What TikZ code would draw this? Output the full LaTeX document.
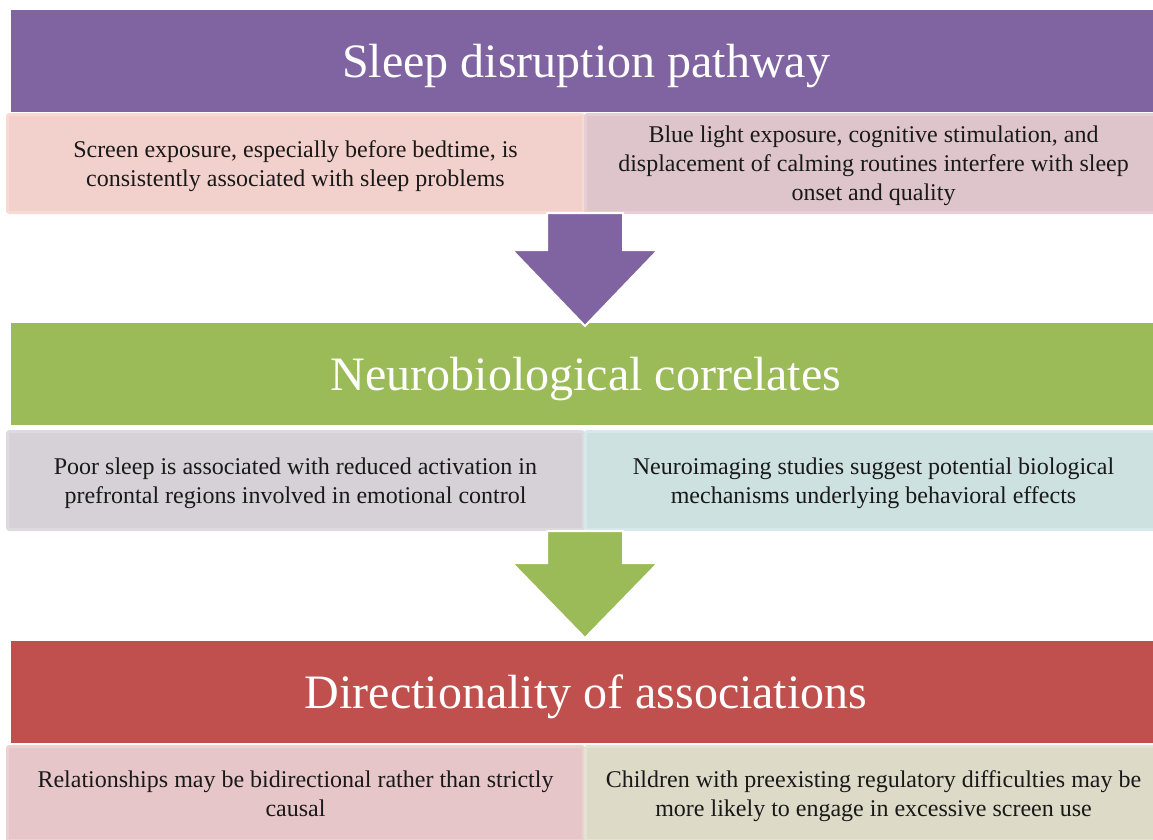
\documentclass[tikz,border=0pt]{standalone}
\usepackage{fontspec}
\setmainfont{Liberation Serif}
% Palette
\definecolor{hpurple}{RGB}{128,100,162}
\definecolor{hgreen}{RGB}{155,187,89}
\definecolor{hred}{RGB}{192,80,77}
\definecolor{fillA}{RGB}{242,208,203}\definecolor{lineA}{RGB}{248,218,210}
\definecolor{fillB}{RGB}{222,197,204}\definecolor{lineB}{RGB}{230,207,212}
\definecolor{fillC}{RGB}{213,209,215}\definecolor{lineC}{RGB}{222,218,224}
\definecolor{fillD}{RGB}{204,225,224}\definecolor{lineD}{RGB}{214,232,234}
\definecolor{fillE}{RGB}{230,198,200}\definecolor{lineE}{RGB}{236,208,210}
\definecolor{fillF}{RGB}{221,218,199}\definecolor{lineF}{RGB}{228,226,210}
\begin{document}
\begin{tikzpicture}[x=1pt,y=-1pt,
  header/.style={fill=#1, draw=none, inner sep=0pt, outer sep=0pt,
    anchor=north west, minimum width=1150pt, minimum height=102pt,
    text depth=0pt, text=white, font=\fontsize{48}{54}\selectfont},
  cell/.style 2 args={fill=#1, draw=#2, line width=3pt, rounded corners=2pt,
    inner sep=0pt, outer sep=0pt, anchor=north west, minimum height=98pt,
    minimum width=576pt, text depth=0pt, align=center, text=black!90,
    font=\fontsize{24}{29}\selectfont},
  blockarrow/.style={fill=#1, draw=white, line width=2pt, line join=miter}]
\useasboundingbox (0,0) rectangle (1153,839);
\clip (0,0) rectangle (1153,839);

% Sleep disruption pathway
\node[header=hpurple] (h1) at (11,10) {Sleep disruption pathway};
\node[cell={fillA}{lineA}] (a1) at (7.5,114.5)
  {Screen exposure, especially before bedtime, is\\consistently associated with sleep problems};
\node[cell={fillB}{lineB}] (b1) at (585.5,114.5)
  {Blue light exposure, cognitive stimulation, and\\displacement of calming routines interfere with sleep\\onset and quality};

% Neurobiological correlates
\node[header=hgreen] (h2) at (11,323) {Neurobiological correlates};
\node[cell={fillC}{lineC}] (a2) at (7.5,431.5)
  {Poor sleep is associated with reduced activation in\\prefrontal regions involved in emotional control};
\node[cell={fillD}{lineD}] (b2) at (585.5,431.5)
  {Neuroimaging studies suggest potential biological\\mechanisms underlying behavioral effects};

% Directionality of associations
\node[header=hred] (h3) at (11,641) {Directionality of associations};
\node[cell={fillE}{lineE}, minimum height=94pt] (a3) at (7.5,746.5)
  {Relationships may be bidirectional rather than strictly\\causal};
\node[cell={fillF}{lineF}, minimum height=94pt] (b3) at (585.5,746.5)
  {Children with preexisting regulatory difficulties may be\\more likely to engage in excessive screen use};

% Block arrows between the sections
\draw[blockarrow=hpurple]
  (547,213) -- (623,213) -- (623,250) -- (658,250) -- (585,326)
  -- (512,250) -- (547,250) -- cycle;
\draw[blockarrow=hgreen]
  (547,531) -- (623,531) -- (623,563) -- (658,563) -- (585,638)
  -- (512,563) -- (547,563) -- cycle;
\end{tikzpicture}
\end{document}
